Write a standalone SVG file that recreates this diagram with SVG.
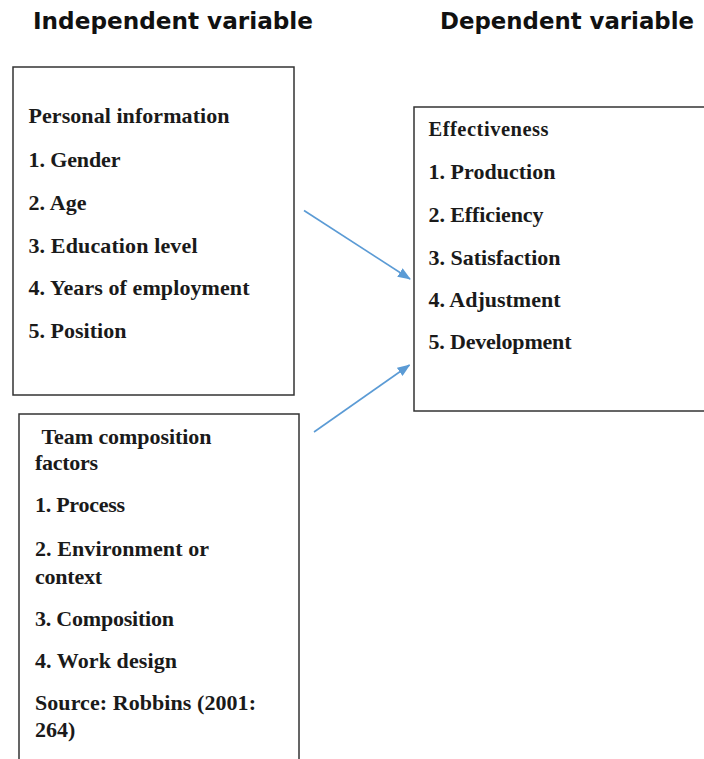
<svg xmlns="http://www.w3.org/2000/svg" width="704" height="759" viewBox="0 0 704 759">
  <style>
    .box { fill: #ffffff; stroke: #333333; stroke-width: 1.5; }
    .hdr { font-family: "DejaVu Sans", "Liberation Sans", sans-serif; font-weight: bold; font-size: 22.5px; fill: #111111; }
    .txt { font-family: "Liberation Serif", "Times New Roman", serif; font-weight: bold; font-size: 22px; fill: #1a1a1a; }
    .sub { font-size: 20.5px; }
    .link { fill: none; stroke: #5b9bd5; stroke-width: 1.6; }
  </style>
  <defs>
    <marker id="arrow" viewBox="0 0 13 10" refX="12" refY="5" markerWidth="13" markerHeight="10" markerUnits="userSpaceOnUse" orient="auto">
      <path d="M0,0 L13,5 L0,10 z" fill="#5b9bd5"/>
    </marker>
  </defs>

  <rect width="704" height="759" fill="#ffffff"/>

  <!-- column headings -->
  <g id="headings">
    <text class="hdr" x="33" y="29.3" textLength="280" lengthAdjust="spacingAndGlyphs">Independent variable</text>
    <text class="hdr" x="440" y="29.3" textLength="254" lengthAdjust="spacingAndGlyphs">Dependent variable</text>
  </g>

  <!-- personal information -->
  <g id="personal-info">
    <rect class="box" x="13" y="67" width="281" height="328"/>
    <text class="txt" x="28.5" y="123" textLength="201" lengthAdjust="spacing">Personal information</text>
    <text class="txt" x="28.5" y="166.5" textLength="92" lengthAdjust="spacing">1. Gender</text>
    <text class="txt" x="28.5" y="209.5" textLength="58" lengthAdjust="spacing">2. Age</text>
    <text class="txt" x="28.5" y="252.5" textLength="169" lengthAdjust="spacing">3. Education level</text>
    <text class="txt" x="28.5" y="295" textLength="221" lengthAdjust="spacing">4. Years of employment</text>
    <text class="txt" x="28.5" y="338" textLength="98" lengthAdjust="spacing">5. Position</text>
  </g>

  <!-- effectiveness -->
  <g id="effectiveness">
    <rect class="box" x="414" y="107" width="300" height="304"/>
    <text class="txt sub" x="428.5" y="135.5" textLength="120" lengthAdjust="spacing">Effectiveness</text>
    <text class="txt" x="428.5" y="179" textLength="127" lengthAdjust="spacing">1. Production</text>
    <text class="txt" x="428.5" y="221.5" textLength="115" lengthAdjust="spacing">2. Efficiency</text>
    <text class="txt" x="428.5" y="264.5" textLength="132" lengthAdjust="spacing">3. Satisfaction</text>
    <text class="txt" x="428.5" y="307" textLength="132" lengthAdjust="spacing">4. Adjustment</text>
    <text class="txt" x="428.5" y="349" textLength="143" lengthAdjust="spacing">5. Development</text>
  </g>

  <!-- team composition factors -->
  <g id="team-composition">
    <rect class="box" x="19" y="414" width="280" height="360"/>
    <text class="txt" x="41.5" y="443.5" textLength="170" lengthAdjust="spacing">Team composition</text>
    <text class="txt" x="35" y="469.5" textLength="63" lengthAdjust="spacing">factors</text>
    <text class="txt" x="35" y="512" textLength="90" lengthAdjust="spacing">1. Process</text>
    <text class="txt" x="35" y="556" textLength="174" lengthAdjust="spacing">2. Environment or</text>
    <text class="txt" x="35" y="584" textLength="67" lengthAdjust="spacing">context</text>
    <text class="txt" x="35" y="626" textLength="139" lengthAdjust="spacing">3. Composition</text>
    <text class="txt" x="35" y="667.5" textLength="142" lengthAdjust="spacing">4. Work design</text>
    <text class="txt" x="35" y="710" textLength="221" lengthAdjust="spacing">Source: Robbins (2001:</text>
    <text class="txt" x="35" y="737">264)</text>
  </g>

  <!-- connectors -->
  <g id="connectors">
    <line class="link" x1="304" y1="210.5" x2="410" y2="279" marker-end="url(#arrow)"/>
    <line class="link" x1="314" y1="432" x2="409.5" y2="365" marker-end="url(#arrow)"/>
  </g>
</svg>
